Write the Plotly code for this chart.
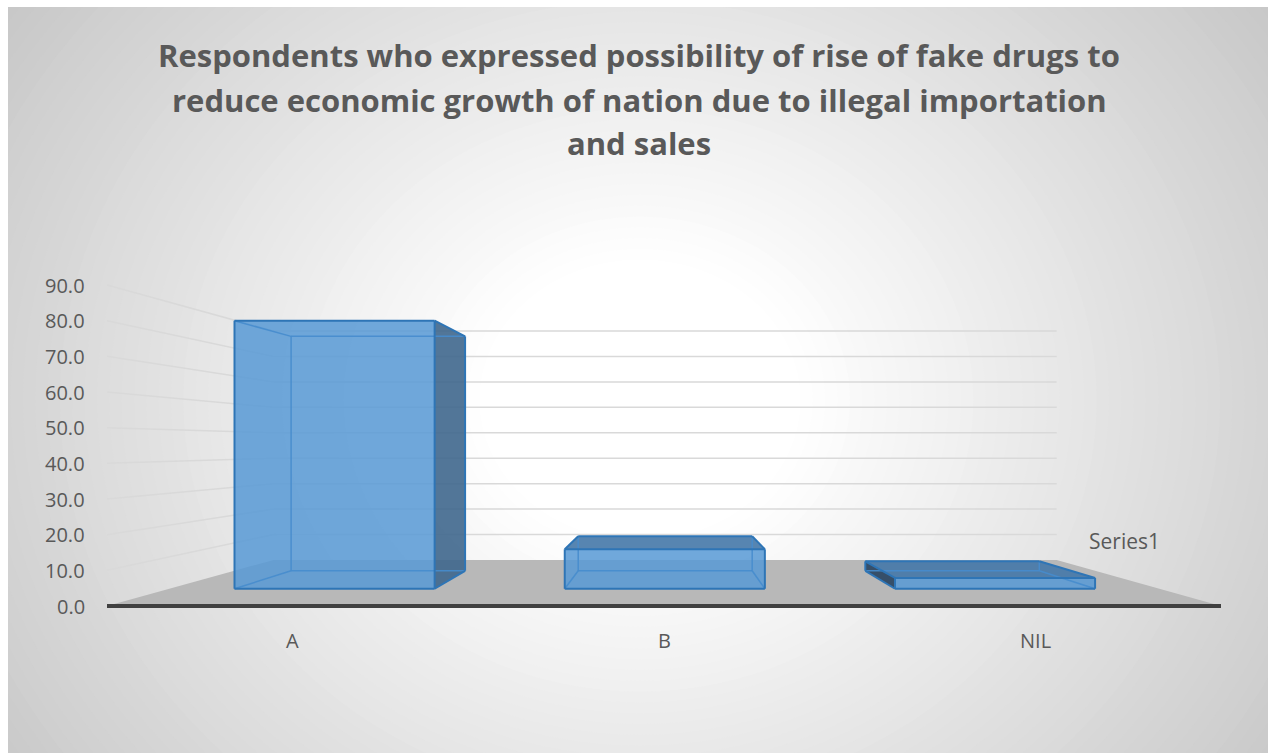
import plotly.graph_objects as go

# ---- data -------------------------------------------------------------
categories = ["A", "B", "NIL"]
values = [84.2, 12.4, 3.4]
tick_values = [0, 10, 20, 30, 40, 50, 60, 70, 80, 90]
series_name = "Series1"
title_lines = [
    "Respondents who expressed possibility of rise of fake drugs to",
    "reduce economic growth of nation due to illegal importation",
    "and sales",
]

# ---- page size and 3-D scene geometry -----------------------------------
W, H = 1268, 753
X_RANGE = (-0.5, len(categories) - 0.5)   # category axis
D_RANGE = (0.0, 1.0)                      # depth of the floor
BAR_HALF_W = 0.303
BAR_D0, BAR_D1 = 0.3, 0.7

# perspective, expressed in page pixels
PP_X, PP_Y = 685.0, 445.5        # vanishing point
FRONT_CX = 664.0                 # centre of the front floor edge
FRONT_BASE = 606.0               # front floor edge (value 0)
PX_PER_UNIT = 1114.0 / (X_RANGE[1] - X_RANGE[0])
PX_PER_VALUE = 321.0 / (tick_values[-1] - tick_values[0])
DEPTH_RATIO = 1.4017             # back distance / front distance
YAW_SHEAR = 0.0105               # slight turn of the scene about the vertical
YAW_ORIGIN = 200.0
X_MID = (X_RANGE[0] + X_RANGE[1]) / 2

CAM_X = X_MID + (PP_X - FRONT_CX) / PX_PER_UNIT
CAM_V = (FRONT_BASE - PP_Y) / PX_PER_VALUE


def project(x, d, v):
    """Map (category position, depth, value) to page pixels."""
    s = 1 + (DEPTH_RATIO - 1) * d
    fx = FRONT_CX + (x - X_MID) * PX_PER_UNIT
    fy = FRONT_BASE - v * PX_PER_VALUE
    px = PP_X + (fx - PP_X) / s - YAW_SHEAR * d * (fx - YAW_ORIGIN)
    return px, PP_Y + (fy - PP_Y) / s


def path(points):
    xs, ys = [], []
    for p in points:
        px, py = project(*p)
        xs.append(px)
        ys.append(py)
    return xs, ys


TEXT = "#595959"
FONT = "Open Sans"
EDGE = "rgb(46,117,182)"
EDGE_HIDDEN = "rgba(70,140,205,0.9)"
FACE_FRONT = "rgba(87,153,213,0.85)"
FACE_TOP = "rgba(69,120,169,0.9)"
FACE_RIGHT = "rgba(63,103,141,0.9)"
FACE_LEFT = "rgba(40,68,97,0.9)"

fig = go.Figure()


def add_poly(points, fill):
    xs, ys = path(points + [points[0]])
    fig.add_trace(go.Scatter(
        x=xs, y=ys, mode="lines", fill="toself", fillcolor=fill,
        line=dict(width=0), hoverinfo="skip", showlegend=False,
    ))


def add_lines(segments, color, width):
    xs, ys = [], []
    for a, b in segments:
        sx, sy = path([a, b])
        xs += sx + [None]
        ys += sy + [None]
    fig.add_trace(go.Scatter(
        x=xs, y=ys, mode="lines", line=dict(color=color, width=width),
        hoverinfo="skip", showlegend=False,
    ))


x0, x1 = X_RANGE
d0, d1 = D_RANGE

# ---- floor ----------------------------------------------------------------
add_poly([(x0, d0, 0), (x1, d0, 0), (x1, d1, 0), (x0, d1, 0)], "rgb(184,184,184)")

# ---- gridlines on the side wall and back wall -------------------------------
grid = []
for v in tick_values[1:]:
    grid.append(((x0, d0, v), (x0, d1, v)))
    grid.append(((x0, d1, v), (x1, d1, v)))
add_lines(grid, "rgb(217,217,217)", 1.5)

# ---- columns ------------------------------------------------------------------
FACES = {
    "front": [(0, 0, 0), (1, 0, 0), (1, 0, 1), (0, 0, 1)],
    "back": [(0, 1, 0), (1, 1, 0), (1, 1, 1), (0, 1, 1)],
    "left": [(0, 0, 0), (0, 1, 0), (0, 1, 1), (0, 0, 1)],
    "right": [(1, 0, 0), (1, 1, 0), (1, 1, 1), (1, 0, 1)],
    "bottom": [(0, 0, 0), (1, 0, 0), (1, 1, 0), (0, 1, 0)],
    "top": [(0, 0, 1), (1, 0, 1), (1, 1, 1), (0, 1, 1)],
}
EDGE_KEYS = [((0, 0, 0), (1, 0, 0)), ((0, 1, 0), (1, 1, 0)),
             ((0, 0, 1), (1, 0, 1)), ((0, 1, 1), (1, 1, 1)),
             ((0, 0, 0), (0, 1, 0)), ((1, 0, 0), (1, 1, 0)),
             ((0, 0, 1), (0, 1, 1)), ((1, 0, 1), (1, 1, 1)),
             ((0, 0, 0), (0, 0, 1)), ((1, 0, 0), (1, 0, 1)),
             ((0, 1, 0), (0, 1, 1)), ((1, 1, 0), (1, 1, 1))]
SIDE_FILLS = {"top": FACE_TOP, "left": FACE_LEFT, "right": FACE_RIGHT}

for idx, val in enumerate(values):
    xa, xb = idx - BAR_HALF_W, idx + BAR_HALF_W
    corner = {(i, j, k): (xa if i == 0 else xb,
                          BAR_D0 if j == 0 else BAR_D1,
                          0 if k == 0 else val)
              for i in (0, 1) for j in (0, 1) for k in (0, 1)}
    visible = {
        "front": True, "back": False, "bottom": False,
        "top": val < CAM_V,
        "left": xa > CAM_X,
        "right": xb < CAM_X,
    }
    edges = []
    for key_a, key_b in EDGE_KEYS:
        shared = [f for f, pts in FACES.items() if key_a in pts and key_b in pts]
        seen = any(visible[f] for f in shared)
        edges.append((corner[key_a], corner[key_b], seen))

    for name in ("top", "left", "right"):
        if visible[name]:
            add_poly([corner[c] for c in FACES[name]], SIDE_FILLS[name])
    add_poly([corner[c] for c in FACES["front"]], FACE_FRONT)
    add_lines([(a, b) for a, b, s in edges if not s], EDGE_HIDDEN, 1.5)
    add_lines([(a, b) for a, b, s in edges if s], EDGE, 2)

# ---- category axis line ----------------------------------------------------------
add_lines([((x0, d0, 0), (x1, d0, 0))], "rgb(64,64,64)", 4)

# ---- labels ------------------------------------------------------------------------
annotations = []
for v in tick_values:
    px, py = project(x0, d0, v)
    annotations.append(dict(
        x=px, y=py, xref="x", yref="y", text=f"{v:.1f}", showarrow=False,
        xanchor="right", yanchor="middle", xshift=-20,
        font=dict(family=FONT, size=20, color=TEXT),
    ))
for idx, cat in enumerate(categories):
    px, py = project(idx, d0, 0)
    annotations.append(dict(
        x=px, y=py, xref="x", yref="y", text=cat, showarrow=False,
        xanchor="center", yanchor="middle", yshift=-34,
        font=dict(family=FONT, size=20, color=TEXT),
    ))
px, py = project(x1, (d0 + d1) / 2, 0)
annotations.append(dict(
    x=px, y=py, xref="x", yref="y", text=series_name, showarrow=False,
    xanchor="center", yanchor="middle", xshift=-1, yshift=38,
    font=dict(family=FONT, size=21, color=TEXT),
))

for line, ypx in zip(title_lines, [55, 100, 143]):
    annotations.append(dict(
        xref="paper", yref="paper", x=639 / W, y=1 - ypx / H,
        text=f"<b>{line}</b>", showarrow=False,
        xanchor="center", yanchor="middle",
        font=dict(family=FONT, size=31, color=TEXT),
    ))

# ---- radial background ---------------------------------------------------------------
shapes = []
cx, cy = 640.0, 400.0
rx, ry = 640.0, 560.0
steps = 70
t_max = 1.35
for s in range(steps):
    t = t_max * (1 - s / steps)
    g = 255 - 57 * max(0.0, t - 0.25)
    g = int(round(min(255, max(190, g))))
    shapes.append(dict(
        type="circle", xref="x", yref="y", layer="below",
        x0=cx - rx * t, x1=cx + rx * t, y0=cy - ry * t, y1=cy + ry * t,
        fillcolor=f"rgb({g},{g},{g})", line=dict(width=0),
    ))
shapes.append(dict(type="rect", xref="x", yref="y", layer="below",
                   x0=-50, x1=W + 50, y0=-50, y1=7,
                   fillcolor="white", line=dict(width=0)))
shapes.append(dict(type="rect", xref="x", yref="y", layer="below",
                   x0=-50, x1=8, y0=-50, y1=H + 50,
                   fillcolor="white", line=dict(width=0)))

fig.update_layout(
    width=W, height=H,
    margin=dict(l=0, r=0, t=0, b=0),
    paper_bgcolor="white",
    plot_bgcolor="rgba(0,0,0,0)",
    showlegend=False,
    shapes=shapes,
    annotations=annotations,
    xaxis=dict(range=[0, W], visible=False, fixedrange=True),
    yaxis=dict(range=[H, 0], visible=False, fixedrange=True),
)

fig.write_html("out.html", config=dict(displayModeBar=False, staticPlot=True))
